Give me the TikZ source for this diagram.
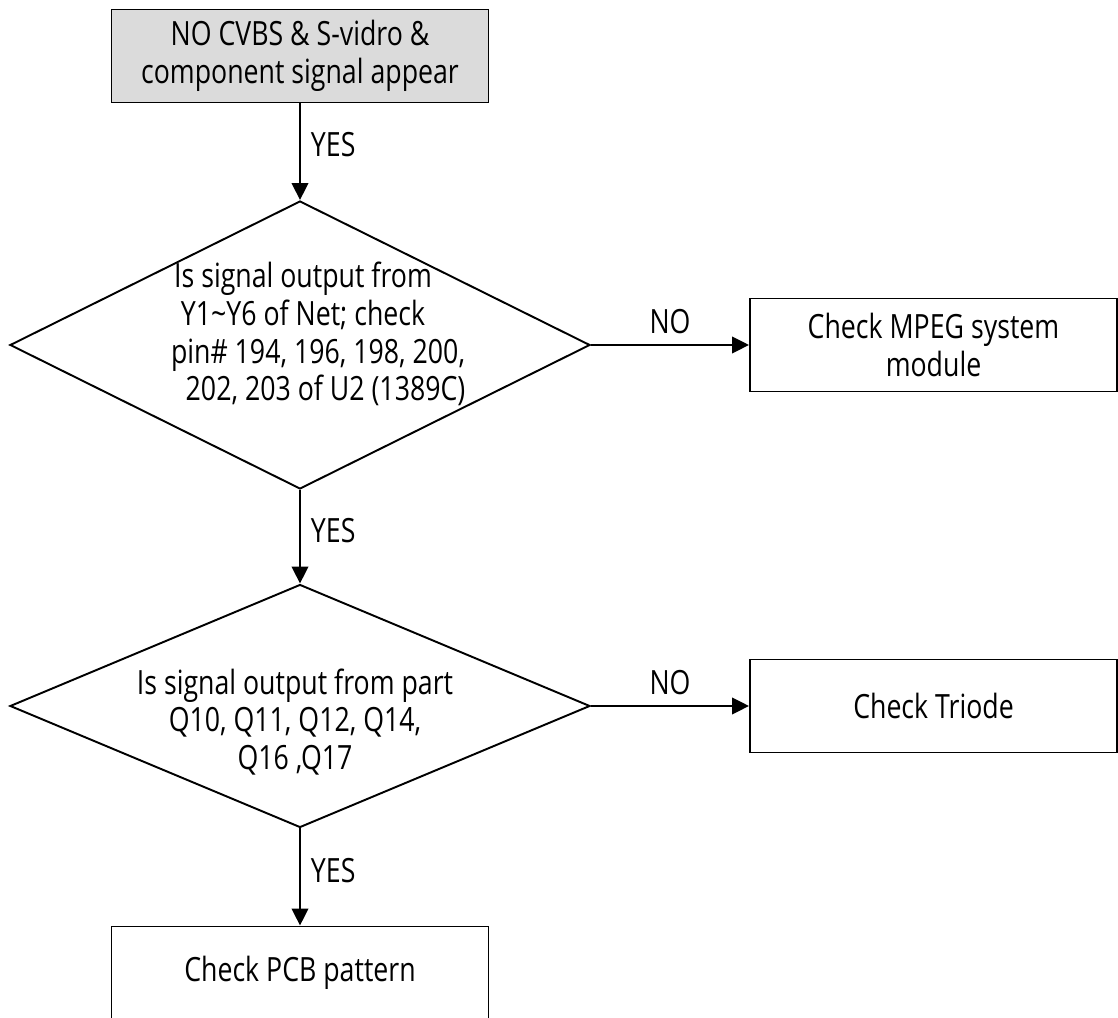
\documentclass[tikz,border=0pt]{standalone}
\usepackage{fontspec}
\setmainfont{Open Sans}[FakeStretch=0.8]
\usetikzlibrary{arrows.meta, shapes.geometric}

\tikzset{
  flowbox/.style={draw, line width=1.1pt, minimum width=7.54cm,
    minimum height=1.86cm, align=center, inner sep=0pt},
  startbox/.style={flowbox, fill=gray!28},
  sidebox/.style={flowbox, minimum width=7.34cm},
  decision/.style={draw, diamond, line width=1.1pt, minimum width=11.6cm,
    inner sep=0pt},
  qtext/.style={align=center, inner sep=0pt},
  flow/.style={-{Triangle[length=0.34cm, width=0.33cm]}, line width=1.1pt},
  answer/.style={inner sep=0.2cm}
}

\begin{document}
\begin{tikzpicture}[font=\fontsize{19}{21.5}\selectfont]
  \clip (0,0) rectangle (22.36,-20.36);

  % main column
  \node[startbox] (start) at (6.0,-1.12)
    {NO CVBS \& S-vidro \&\\component signal appear};
  \node[decision, minimum height=5.76cm] (q1) at (6.0,-6.9) {};
  \node[qtext] (q1text) at (6.06,-6.68)
    {Is signal output from\\
     Y1\textasciitilde Y6 of Net; check\\
     \hspace*{0.6cm}pin\# 194, 196, 198, 200,\\
     \hspace*{0.9cm}202, 203 of U2 (1389C)};
  \node[decision, minimum height=4.86cm] (q2) at (6.0,-14.12) {};
  \node[qtext] (q2text) at (5.9,-14.44)
    {Is signal output from part\\Q10, Q11, Q12, Q14,\\Q16 ,Q17};
  \node[flowbox] (pcb) at (6.0,-19.46) {Check PCB pattern};

  % side boxes
  \node[sidebox] (mpeg) at (18.67,-6.9) {Check MPEG system\\module};
  \node[sidebox] (triode) at (18.67,-14.12) {Check Triode};

  % connectors
  \draw[flow] (start) -- node[answer, right, pos=0.43] {YES} (q1);
  \draw[flow] (q1) -- node[answer, right, pos=0.43] {YES} (q2);
  \draw[flow] (q2) -- node[answer, right, pos=0.43] {YES} (pcb);
  \draw[flow] (q1.east) -- node[answer, above, midway] {NO} (mpeg.west);
  \draw[flow] (q2.east) -- node[answer, above, midway] {NO} (triode.west);
\end{tikzpicture}
\end{document}
